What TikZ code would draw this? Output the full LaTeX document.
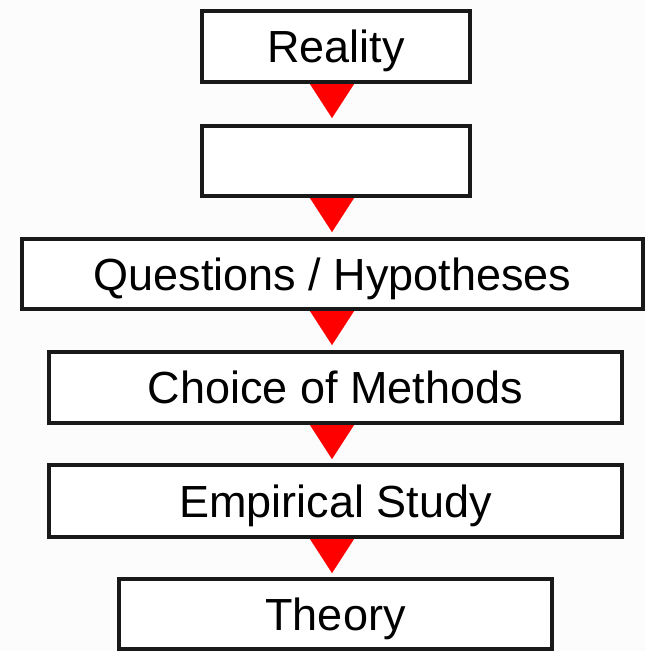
\documentclass[tikz,border=0pt]{standalone}
\usepackage{fontspec}
\setmainfont{Liberation Sans}
\usetikzlibrary{arrows.meta}

\begin{document}
\begin{tikzpicture}[x=1pt,y=-1pt,
  stage/.style={draw=black!90, line width=4pt, fill=white, inner sep=0pt,
    font=\fontsize{45}{54}\selectfont, text height=32pt, text depth=0pt},
  flow/.style={red, line width=0.1pt, shorten >=#1,
    -{Triangle[length=34pt,width=44pt]}}, flow/.default=4pt]
  \useasboundingbox[fill={rgb,255:red,252;green,252;blue,252}] (0,0) rectangle (646,651);

  \coordinate (spine) at (332,0);

  \node[stage, minimum width=268pt, minimum height=71pt] (reality)   at (336,46.5)  {Reality};
  \node[stage, minimum width=268pt, minimum height=70pt] (blank)     at (336,161)   {};
  \node[stage, minimum width=621pt, minimum height=70pt] (questions) at (332.5,274) {Questions / Hypotheses};
  \node[stage, minimum width=573pt, minimum height=71pt] (methods)   at (335.5,387.5) {Choice of Methods};
  \node[stage, minimum width=573pt, minimum height=72pt] (study)     at (335.5,501) {Empirical Study};
  \node[stage, minimum width=433pt, minimum height=70pt] (theory)    at (335.5,614) {Theory};

  \draw[flow=6pt] (reality.south -| spine)   -- (blank.north -| spine);
  \draw[flow=5pt] (blank.south -| spine)     -- (questions.north -| spine);
  \draw[flow=5pt] (questions.south -| spine) -- (methods.north -| spine);
  \draw[flow]     (methods.south -| spine)   -- (study.north -| spine);
  \draw[flow]     (study.south -| spine)     -- (theory.north -| spine);
\end{tikzpicture}
\end{document}
